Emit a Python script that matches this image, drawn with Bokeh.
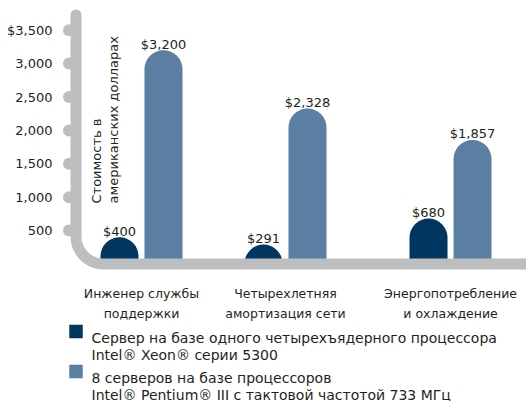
import math
from bokeh.plotting import figure
from bokeh.models import FixedTicker
from bokeh.core.properties import value
from bokeh.embed import file_html
from bokeh.resources import INLINE

# ---------------- data ----------------
categories = ["Инженер службы\nподдержки",
              "Четырехлетняя\nамортизация сети",
              "Энергопотребление\nи охлаждение"]
xeon_costs = [400, 291, 680]
pentium_costs = [3200, 2328, 1857]
y_ticks = [500, 1000, 1500, 2000, 2500, 3000, 3500]
y_tick_labels = ["500", "1,000", "1,500", "2,000", "2,500", "3,000", "$3,500"]
series_names = ["Сервер на базе одного четырехъядерного процессора\nIntel® Xeon® серии 5300",
                "8 серверов на базе процессоров\nIntel® Pentium® III с тактовой частотой 733 МГц"]
y_title = "Стоимость в\nамериканских долларах"

# ---------------- layout / style ----------------
FONT = "DejaVu Sans"
TEXT = "#231f20"
DARK = "#00365f"
LIGHT = "#5b7fa3"
GRAY = "#bcbec0"
series_colors = [DARK, LIGHT]

W, H = 526, 401
LEFT = 58
FRAME_W, FRAME_H = W - LEFT, H
slots = [0.0, 1.0, 2.146]          # group centre slots on x
PX_PER_X = 144.0
X0_PX = 83.0                       # frame px where x = 0
PX_PER_Y = 33.4 / 500.0
Y0_PX = 263.5                      # frame px (from top) where y = 0
BAR_W_PX = 38.0
BAR_OFF_PX = 22.0

x_start = -X0_PX / PX_PER_X
x_end = (FRAME_W - X0_PX) / PX_PER_X
y_end = Y0_PX / PX_PER_Y
y_start = -(FRAME_H - Y0_PX) / PX_PER_Y


def fx(px):
    return (px - X0_PX) / PX_PER_X


def fy(py):
    return (Y0_PX - py) / PX_PER_Y


p = figure(width=W, height=H,
           x_range=(x_start, x_end), y_range=(y_start, y_end),
           min_border_left=LEFT, min_border_right=0, min_border_top=0, min_border_bottom=0,
           output_backend="svg", toolbar_location=None)
p.outline_line_color = None
p.xgrid.visible = False
p.ygrid.visible = False
p.xaxis.visible = False
p.background_fill_color = "white"
p.border_fill_color = "white"

# bars
bw = BAR_W_PX / PX_PER_X
off = BAR_OFF_PX / PX_PER_X
x_dark = [s - off for s in slots]
x_light = [s + off for s in slots]
rad = int(BAR_W_PX / 2)
p.vbar(x=x_dark, top=xeon_costs, bottom=0, width=bw, fill_color=DARK, line_color=None,
       border_radius=(rad, rad, 0, 0))
p.vbar(x=x_light, top=pentium_costs, bottom=0, width=bw, fill_color=LIGHT, line_color=None,
       border_radius=(rad, rad, 0, 0))

# value labels
gap = 6 / PX_PER_Y
for xs, vals in ((x_dark, xeon_costs), (x_light, pentium_costs)):
    p.text(x=xs, y=[v + gap for v in vals], text=["${:,}".format(v) for v in vals],
           text_align="center", text_baseline="alphabetic", text_font=value(FONT),
           text_font_size="13px", text_color=TEXT)

# gray axis shape: vertical line, rounded corner, horizontal baseline
LINE_X = 17.5
R = 27.5
TOP_Y = 14.5
cx, cy = LINE_X + R, Y0_PX - R
path_px = [(LINE_X, TOP_Y), (LINE_X, cy)]
for i in range(1, 30):
    t = math.pi / 2 * i / 30
    path_px.append((cx - R * math.cos(t), cy + R * math.sin(t)))
path_px.append((cx, Y0_PX))
path_px.append((FRAME_W + 20, Y0_PX))
p.line(x=[fx(a) for a, b in path_px], y=[fy(b) for a, b in path_px],
       line_width=11, line_color=GRAY, line_cap="round", line_join="round")
# tick bumps
p.scatter(x=[fx(10.5)] * len(y_ticks), y=y_ticks, size=12, marker="circle",
          fill_color=GRAY, line_color=None)

# y title
p.text(x=[fx(30)], y=[fy(203)], text=[y_title], angle=math.pi / 2,
       text_align="left", text_baseline="top", text_font=value(FONT),
       text_font_size="13px", text_color=TEXT, text_line_height=1.15)

# y axis
ya = p.yaxis[0]
ya.ticker = FixedTicker(ticks=y_ticks)
ya.major_label_overrides = {t: l for t, l in zip(y_ticks, y_tick_labels)}
ya.axis_line_color = None
ya.major_tick_line_color = None
ya.minor_tick_line_color = None
ya.major_tick_in = 0
ya.major_tick_out = 0
ya.major_label_standoff = 6
ya.major_label_text_font = FONT
ya.major_label_text_font_size = "13px"
ya.major_label_text_color = TEXT

# category labels (below the baseline)
CAT_BASE = [292.7, 312.5]
for li in range(2):
    p.text(x=slots, y=[fy(CAT_BASE[li])] * len(slots),
           text=[c.split("\n")[li] for c in categories],
           text_align="center", text_baseline="alphabetic", text_font=value(FONT),
           text_font_size="12.5px", text_color=TEXT)

# legend
LEG_SQ_X = 17.5
LEG_TEXT_X = 33
LEG_BASE = [[337.5, 354.0], [377.5, 394.0]]
SQ = 13.5
for k in range(2):
    b0 = LEG_BASE[k][0]
    p.scatter(x=[fx(LEG_SQ_X)], y=[fy(b0 - 6.5)], size=SQ, marker="square",
              fill_color=series_colors[k], line_color=None)
    lines = series_names[k].split("\n")
    p.text(x=[fx(LEG_TEXT_X)] * 2, y=[fy(b) for b in LEG_BASE[k]], text=lines,
           text_align="left", text_baseline="alphabetic", text_font=value(FONT),
           text_font_size="14px", text_color=TEXT)

open("out.html", "w").write(file_html(p, INLINE))
